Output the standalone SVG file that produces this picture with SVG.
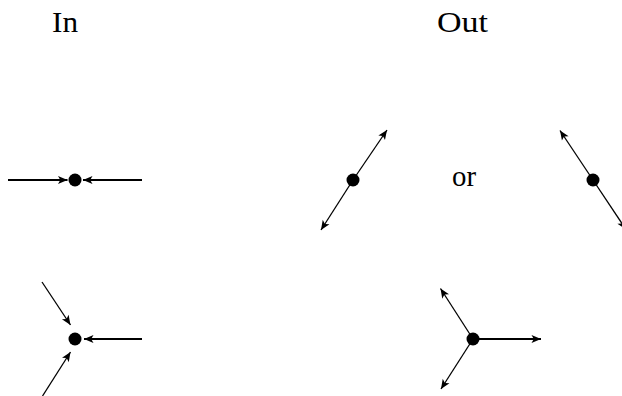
<svg xmlns="http://www.w3.org/2000/svg" width="622" height="396" viewBox="0 0 622 396">
<defs>
<marker id="ah" markerUnits="userSpaceOnUse" markerWidth="13" markerHeight="11" viewBox="-11 -5.5 13 11" refX="0" refY="0" orient="auto">
<path d="M0,0 L-9.5,-4 L-7.2,0 L-9.5,4 Z" fill="#000"/>
</marker>
<style>
.h{stroke:#000;stroke-width:1.9;fill:none;marker-end:url(#ah)}
.d{stroke:#000;stroke-width:1.3;fill:none;marker-end:url(#ah)}
.dot{fill:#000}
.t{font-family:"Liberation Serif","DejaVu Serif",serif;font-size:30px;fill:#000}
</style>
</defs>
<text class="t" x="52" y="32" textLength="26" lengthAdjust="spacingAndGlyphs">In</text>
<text class="t" x="437" y="32" textLength="51" lengthAdjust="spacingAndGlyphs">Out</text>
<text class="t" x="452" y="186" textLength="24" lengthAdjust="spacingAndGlyphs">or</text>
<g id="connectors">
<line class="h" x1="8" y1="180" x2="67.5" y2="180"/>
<line class="h" x1="142" y1="180" x2="83" y2="180"/>
<line class="d" x1="353" y1="180" x2="387" y2="130"/>
<line class="d" x1="353" y1="180" x2="321" y2="230"/>
<line class="d" x1="593" y1="180" x2="560" y2="130.5"/>
<line class="d" x1="593" y1="180" x2="626" y2="229.5"/>
<line class="h" x1="142" y1="339" x2="84" y2="339"/>
<line class="d" x1="42" y1="282" x2="70.5" y2="325"/>
<line class="d" x1="42.5" y1="396" x2="70.5" y2="352"/>
<line class="h" x1="473" y1="339" x2="541" y2="339"/>
<line class="d" x1="473" y1="339" x2="440.5" y2="288.5"/>
<line class="d" x1="473" y1="339" x2="441" y2="389"/>
</g>
<g id="in1"><circle class="dot" cx="75" cy="180" r="6.5"/></g>
<g id="out1a"><circle class="dot" cx="353" cy="180" r="6.5"/></g>
<g id="out1b"><circle class="dot" cx="593" cy="180" r="6.5"/></g>
<g id="in2"><circle class="dot" cx="75" cy="339" r="6.5"/></g>
<g id="out2"><circle class="dot" cx="473" cy="339" r="6.5"/></g>
</svg>
